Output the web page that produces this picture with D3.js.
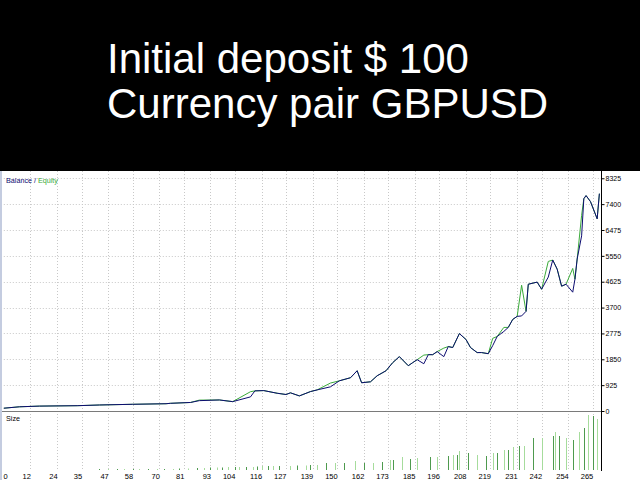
<!DOCTYPE html>
<html><head><meta charset="utf-8">
<script src="https://cdn.jsdelivr.net/npm/d3@7"></script>
<style>html,body{margin:0;padding:0;background:#000;}svg{display:block;}</style>
</head><body>
<script>
// ---- data ----
const titleLines = ["Initial deposit $ 100", "Currency pair GBPUSD"];
const xTickLabels = [0,12,24,35,47,58,70,81,93,104,116,127,139,150,162,173,185,196,208,219,231,242,254,265];
const yTickLabels = [0,925,1850,2775,3700,4625,5550,6475,7400,8325];
const trades = [0,7,16,33,43,58,73,75,84,88,97,103,111,113,117,123,127,129,133,138,141,147,151,156,159,161,165,168,172,175,178,182,184,186,189,191,193,195,198,200,202,205,208,210,213,215,218,220,222,225,227,229,231,233,235,236,240,242,245,247,249,251,253,256,257,258,260,261,262,264,267,268];
const balance = [100,150,175,190,215,240,260,275,305,370,395,335,505,720,730,635,590,650,540,695,755,865,1080,1190,1440,1010,1045,1260,1440,1730,1945,1620,1730,1835,1690,2015,2015,2125,1945,2305,2270,2770,2555,2270,2090,2090,2050,2340,2665,2845,2990,3275,3385,3400,3565,4535,4610,4355,4790,5400,5075,4465,4535,4250,4715,5435,6265,7595,7705,7490,6875,7775];
const equity = [100,150,175,190,215,240,260,275,305,390,395,335,690,720,730,635,590,650,540,695,755,1000,1080,1190,1440,1010,1045,1260,1440,1730,1945,1620,1730,1835,2000,2015,2015,2125,2250,2305,2270,2770,2555,2270,2090,2090,2050,2600,2665,2990,2990,3275,3385,4500,3565,4535,4610,4355,5350,5400,5075,4465,4535,5100,4715,5435,7000,7595,7705,7490,6875,7775];
const sizeTrades = [43,47,51,54,58,61,65,69,72,76,79,83,87,90,93,96,98,101,104,106,109,112,114,116,119,121,124,129,132,136,138,141,145,149,153,158,162,166,170,174,175,179,183,186,192,195,200,202,204,205,209,213,217,220,222,225,227,229,232,234,238,242,247,248,250,253,256,259,261,263,265,267];
const sizeLots = [0.1,0.1,0.1,0.1,0.1,0.1,0.1,0.1,0.1,0.1,0.15,0.15,0.2,0.2,0.25,0.25,0.25,0.3,0.3,0.3,0.3,0.3,0.35,0.4,0.4,0.4,0.4,0.4,0.45,0.45,0.5,0.5,0.7,0.7,0.7,0.9,0.7,0.7,0.8,1.0,1.0,1.3,1.1,1.2,1.3,1.3,1.4,1.5,1.5,1.9,1.7,1.5,1.4,1.7,1.7,2.0,2.0,2.3,2.4,2.4,3.2,3.2,3.4,3.8,3.4,3.2,3.0,3.8,4.2,5.5,5.4,5.1];

// ---- layout ----
const W = 640, H = 480;
const svg = d3.select("body").append("svg").attr("width", W).attr("height", H);
svg.append("rect").attr("x",0).attr("y",0).attr("width",W).attr("height",H).attr("fill","#000");
const chartTop = 171;
svg.append("rect").attr("x",0).attr("y",chartTop).attr("width",W).attr("height",H-chartTop).attr("fill","#fff");
svg.append("rect").attr("x",0).attr("y",chartTop).attr("width",2).attr("height",H-chartTop).attr("fill","#c4cce0");

// titles
svg.selectAll("text.title").data(titleLines).enter().append("text")
  .attr("class","title")
  .attr("x",107).attr("y",(d,i)=>73+i*45)
  .attr("fill","#fff")
  .attr("font-family","'Liberation Sans', Arial, sans-serif")
  .attr("font-size",42)
  .text(d=>d);

const left = 3.8, right = 601;
const x = d3.scaleLinear().domain([0, 268.5]).range([left, 600.5]);
const y = d3.scaleLinear().domain([0, 8585]).range([411, chartTop]);
const ys = d3.scaleLinear().domain([0, 5.9]).range([470, 411]);

const gridColor = "#c8c8c8";
// vertical grid
svg.append("g").selectAll("line").data(xTickLabels.slice(1)).enter().append("line")
  .attr("x1",d=>Math.round(x(d))+0.5).attr("x2",d=>Math.round(x(d))+0.5)
  .attr("y1",chartTop).attr("y2",470)
  .attr("stroke",gridColor).attr("stroke-width",1).attr("stroke-dasharray","1,2");
// horizontal grid
svg.append("g").selectAll("line").data(yTickLabels.slice(1)).enter().append("line")
  .attr("x1",left).attr("x2",right)
  .attr("y1",d=>Math.round(y(d))+0.5).attr("y2",d=>Math.round(y(d))+0.5)
  .attr("stroke",gridColor).attr("stroke-width",1).attr("stroke-dasharray","1,2");

// size bars
svg.append("g").selectAll("rect").data(sizeTrades).enter().append("rect")
  .attr("x",d=>Math.round(x(d)))
  .attr("y",(d,i)=>ys(sizeLots[i]))
  .attr("width",1)
  .attr("height",(d,i)=>470-ys(sizeLots[i]))
  .attr("fill",(d,i)=> i%2===0 ? "#4e9a4e" : "#a6dc9c");

// equity & balance lines
const pts = (vals)=>trades.map((t,i)=>[t,vals[i]]);
const line = d3.line().x(d=>x(d[0])).y(d=>y(d[1]));
svg.append("path").attr("d",line(pts(equity))).attr("fill","none").attr("stroke","#3aaa3a").attr("stroke-width",1);
svg.append("path").attr("d",line(pts(balance))).attr("fill","none").attr("stroke","#0c0c70").attr("stroke-width",1);

// separator and right axis
svg.append("line").attr("x1",2).attr("x2",right).attr("y1",411.5).attr("y2",411.5).attr("stroke","#7a7a7a");
svg.append("line").attr("x1",right+0.5).attr("x2",right+0.5).attr("y1",chartTop).attr("y2",471).attr("stroke","#000");

// right axis ticks & labels
const yAxis = d3.axisRight(y).tickValues(yTickLabels).tickSize(3).tickFormat(d3.format("d"));
const ga = svg.append("g").attr("transform",`translate(${right+0.5},0)`).call(yAxis);
ga.select(".domain").remove();
ga.selectAll("line").attr("stroke","#000");
ga.selectAll("text").attr("x",4).attr("font-family","'Liberation Sans', Arial, sans-serif").attr("font-size",7).attr("fill","#000");

// bottom x labels
const xAxis = d3.axisBottom(x).tickValues(xTickLabels).tickSize(0).tickFormat(d3.format("d"));
const gx = svg.append("g").attr("transform","translate(0,471)").call(xAxis);
gx.select(".domain").remove();
gx.selectAll("text").attr("y",3).attr("dy","0.71em")
  .attr("text-anchor",(d,i)=> i===0 ? "start" : "end")
  .attr("x",(d,i)=> i===0 ? 3-x(0) : 0)
  .attr("font-family","'Liberation Sans', Arial, sans-serif").attr("font-size",7.5).attr("fill","#000");

// panel labels
const lbl = svg.append("text").attr("x",6).attr("y",182.5)
  .attr("font-family","'Liberation Sans', Arial, sans-serif").attr("font-size",7.2);
lbl.append("tspan").attr("fill","#0c0c70").text("Balance / ");
lbl.append("tspan").attr("fill","#3aaa3a").text("Equity");
svg.append("text").attr("x",6).attr("y",421)
  .attr("font-family","'Liberation Sans', Arial, sans-serif").attr("font-size",7.2)
  .attr("fill","#000").text("Size");
</script>
</body></html>
